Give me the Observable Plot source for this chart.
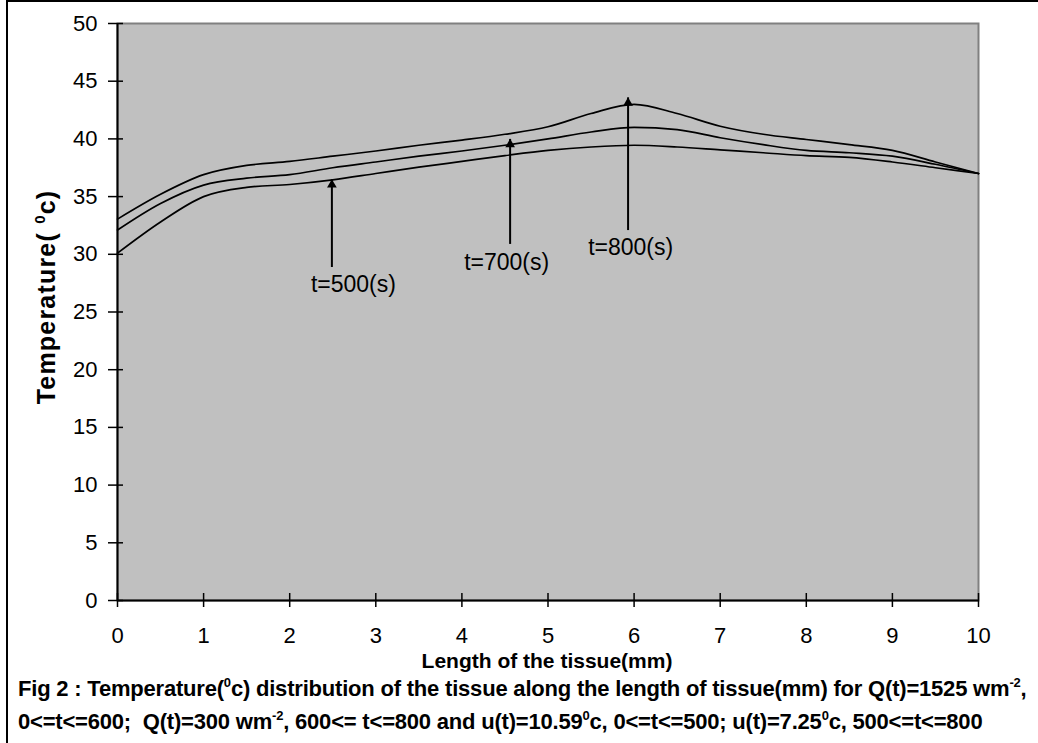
<!DOCTYPE html>
<html>
<head>
<meta charset="utf-8">
<script src="https://cdn.jsdelivr.net/npm/d3@7"></script>
<script src="https://cdn.jsdelivr.net/npm/@observablehq/plot@0.6"></script>
<style>
  html, body { margin: 0; padding: 0; background: #fff; width: 1038px; height: 743px; overflow: hidden; }
  #page { position: relative; width: 1038px; height: 743px; font-family: "Liberation Sans", Arial, sans-serif; }
  #border { position: absolute; left: 6px; top: 0px; width: 2000px; height: 2000px; border-left: 2px solid #000; border-top: 2px solid #000; }
  #chart { position: absolute; left: 0; top: 0; }
  .lbl { position: absolute; font-weight: bold; color: #000; white-space: nowrap; }
  #ylabel { left: 46px; top: 297px; font-size: 25px; letter-spacing: 1.2px; transform: translate(-50%, -50%) rotate(-90deg); }
  #xlabel { left: 547px; top: 661px; font-size: 21px; transform: translate(-50%, -50%); }
  #caption { left: 18px; top: 674px; font-size: 22px; line-height: 30px; letter-spacing: -0.2px; }
  sup { font-size: 13px; vertical-align: 0; position: relative; top: -9px; }
  #ylabel sup { font-size: 15px; top: -10px; }
</style>
</head>
<body>
<div id="page">
  <div id="border"></div>
  <div id="chart"></div>
  <div class="lbl" id="ylabel">Temperature( <sup>0</sup>c)</div>
  <div class="lbl" id="xlabel">Length of the tissue(mm)</div>
  <div class="lbl" id="caption">Fig 2 : Temperature(<sup>0</sup>c) distribution of the tissue along the length of tissue(mm) for Q(t)=1525 wm<sup>-2</sup>,<br>0&lt;=t&lt;=600;&nbsp; Q(t)=300 wm<sup>-2</sup>, 600&lt;= t&lt;=800 and u(t)=10.59<sup>0</sup>c, 0&lt;=t&lt;=500; u(t)=7.25<sup>0</sup>c, 500&lt;=t&lt;=800</div>
</div>
<script>
// Length of tissue (mm)
const lengths = [0, 0.5, 1, 1.5, 2, 2.5, 3, 3.5, 4, 4.5, 5, 5.5, 6, 6.5, 7, 7.5, 8, 8.5, 9, 9.5, 10];
// Temperature (°C) series
const temp500 = [30.1, 32.8, 35.0, 35.8, 36.05, 36.45, 37.0, 37.55, 38.05, 38.55, 39.0, 39.3, 39.45, 39.3, 39.05, 38.8, 38.55, 38.4, 38.0, 37.5, 37.0];
const temp700 = [32.1, 34.4, 36.0, 36.6, 36.9, 37.5, 38.0, 38.5, 38.95, 39.45, 40.0, 40.6, 41.0, 40.8, 40.1, 39.5, 39.0, 38.8, 38.5, 37.8, 37.0];
const temp800 = [33.05, 35.2, 36.9, 37.7, 38.05, 38.5, 38.95, 39.45, 39.9, 40.4, 41.05, 42.2, 43.0, 42.2, 41.1, 40.4, 39.95, 39.5, 39.0, 38.0, 37.0];
const seriesNames = ["t=500(s)", "t=700(s)", "t=800(s)"];

// Annotation arrows and labels
const arrowX = [2.49, 4.56, 5.93];
const arrowFrom = [28.9, 30.9, 32.1];
const arrowTo = [36.5, 40.0, 43.6];
const labelX = [2.74, 4.52, 5.96];
const labelY = [27.4, 29.3, 30.6];

// Axis ticks
const xTicks = [0, 1, 2, 3, 4, 5, 6, 7, 8, 9, 10];
const yTicks = [0, 5, 10, 15, 20, 25, 30, 35, 40, 45, 50];

const allSeries = [temp500, temp700, temp800];
const rows = [];
allSeries.forEach((s, i) => s.forEach((v, j) => rows.push({series: seriesNames[i], x: lengths[j], y: v})));
const arrows = seriesNames.map((n, i) => ({name: n, x: arrowX[i], y1: arrowFrom[i], y2: arrowTo[i], lx: labelX[i], ly: labelY[i]}));

const chart = Plot.plot({
  width: 1038,
  height: 680,
  marginLeft: 117,
  marginRight: 60,
  marginTop: 23,
  marginBottom: 80,
  x: {domain: [0, 10]},
  y: {domain: [0, 50]},
  style: {fontFamily: "'Liberation Sans', Arial, sans-serif", fontSize: "22px", background: "transparent", color: "#000", overflow: "visible"},
  marks: [
    Plot.frame({fill: "#c0c0c0", stroke: "#808080", strokeWidth: 2}),
    Plot.axisX({ticks: xTicks, tickSize: 14, dy: -7, tickFormat: () => "", label: null, stroke: "#000", strokeWidth: 1.5}),
    Plot.axisY({ticks: yTicks, tickSize: 15, dx: 6, tickFormat: () => "", label: null, stroke: "#000", strokeWidth: 1.5}),
    Plot.text(xTicks, {x: d => d, y: 0, text: d => String(d), dy: 35, fontSize: 22, fill: "#000"}),
    Plot.text(yTicks, {x: 0, y: d => d, text: d => String(d), dx: -20, textAnchor: "end", fontSize: 22, fill: "#000"}),
    Plot.ruleX([0], {stroke: "#000", strokeWidth: 2}),
    Plot.ruleY([0], {stroke: "#000", strokeWidth: 2}),
    Plot.line(rows, {x: "x", y: "y", z: "series", stroke: "#000", strokeWidth: 1.7, curve: "monotone-x"}),
    Plot.link(arrows, {x1: "x", x2: "x", y1: "y1", y2: "y2", stroke: "#000", strokeWidth: 2}),
    Plot.dot(arrows, {x: "x", y: "y2", symbol: "triangle", r: 3.6, fill: "#000", stroke: "none", dy: 5.5}),
    Plot.text(arrows, {x: "lx", y: "ly", text: "name", fontSize: 23, fill: "#000"})
  ]
});
document.getElementById("chart").appendChild(chart);
</script>
</body>
</html>
